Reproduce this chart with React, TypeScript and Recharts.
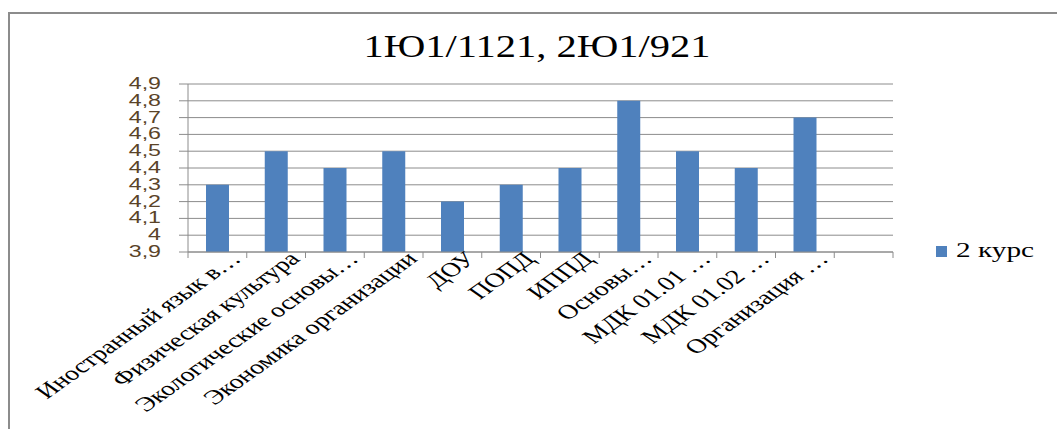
import { BarChart, Bar, XAxis, YAxis, CartesianGrid, Legend } from "recharts";

const subjects = [
  "Иностранный язык в…",
  "Физическая культура",
  "Экологические основы…",
  "Экономика организации",
  "ДОУ",
  "ПОПД",
  "ИППД",
  "Основы…",
  "МДК 01.01 …",
  "МДК 01.02 …",
  "Организация …",
  "",
];
const course2 = [4.3, 4.5, 4.4, 4.5, 4.2, 4.3, 4.4, 4.8, 4.5, 4.4, 4.7, null];
const yTicks = [3.9, 4, 4.1, 4.2, 4.3, 4.4, 4.5, 4.6, 4.7, 4.8, 4.9];
const seriesName = "2 курс";
const title = "1Ю1/1121, 2Ю1/921";

const data = subjects.map((s, i) => ({ name: s, value: course2[i] }));

const W = 1057;
const H = 429;
const margin = { top: 84, right: 164, bottom: 147, left: 0 };
const yAxisW = 188;
const band = (W - margin.left - margin.right - yAxisW) / subjects.length;
const gray = "#8c8c8c";
const serif = "'Liberation Serif', 'Times New Roman', serif";

function XTick(props: any) {
  const { x, y, payload, index } = props;
  return (
    <g>
      <line x1={x + band / 2} x2={x + band / 2} y1={y} y2={y + 6} stroke={gray} />
      {index === 0 && <line x1={x - band / 2} x2={x - band / 2} y1={y} y2={y + 6} stroke={gray} />}
      <text
        transform={`translate(${x + 25},${y + 8}) scale(1.4,1) rotate(-45)`}
        textAnchor="end"
        style={{ fontFamily: serif, fontSize: 20 }}
        fill="#000"
      >
        {payload.value}
      </text>
    </g>
  );
}

function YTick(props: any) {
  const { x, y, payload } = props;
  return (
    <text
      transform={`translate(${x},${y}) scale(1.45,1)`}
      textAnchor="end"
      dy={5}
      style={{ fontFamily: "'Liberation Sans', Arial, sans-serif", fontSize: 16 }}
      fill="#5a4328"
    >
      {String(payload.value).replace(".", ",")}
    </text>
  );
}

function LegendBox() {
  return (
    <svg width={110} height={24}>
      <rect x={2} y={6} width={11} height={11} fill="#4F81BD" />
      <text
        x={22}
        y={17}
        style={{ fontFamily: serif, fontSize: 20 }}
        textLength={78}
        lengthAdjust="spacingAndGlyphs"
        fill="#000"
      >
        {seriesName}
      </text>
    </svg>
  );
}

export default function App() {
  return (
    <div style={{ position: "relative", width: W, height: H, background: "#fff", overflow: "hidden" }}>
      <style>{"body{margin:0}"}</style>
      <div
        style={{
          position: "absolute",
          left: 8,
          top: 12,
          width: 1200,
          height: 600,
          borderLeft: `2px solid ${gray}`,
          borderTop: `2px solid ${gray}`,
        }}
      />
      <svg style={{ position: "absolute", left: 0, top: 0 }} width={W} height={80}>
        <text
          x={537}
          y={57}
          textAnchor="middle"
          style={{ fontFamily: serif, fontSize: 32 }}
          textLength={347}
          lengthAdjust="spacingAndGlyphs"
          fill="#000"
        >
          {title}
        </text>
      </svg>
      <div style={{ position: "absolute", left: 0, top: 0 }}>
        <BarChart width={W} height={H} data={data} margin={margin}>
          <CartesianGrid vertical={false} stroke={gray} />
          <XAxis
            dataKey="name"
            interval={0}
            height={30}
            tickSize={0}
            tickMargin={0}
            tickLine={false}
            axisLine={{ stroke: gray }}
            tick={<XTick />}
          />
          <YAxis
            width={yAxisW}
            domain={[3.9, 4.9]}
            ticks={yTicks}
            interval={0}
            allowDataOverflow
            tickSize={9}
            tickMargin={18}
            tickLine={{ stroke: gray }}
            axisLine={{ stroke: gray }}
            tick={<YTick />}
          />
          <Legend
            layout="horizontal"
            align="center"
            verticalAlign="middle"
            content={<LegendBox />}
            wrapperStyle={{ left: 934, top: 240, width: 120 }}
          />
          <Bar dataKey="value" name={seriesName} fill="#4F81BD" barSize={23} isAnimationActive={false} />
        </BarChart>
      </div>
    </div>
  );
}
